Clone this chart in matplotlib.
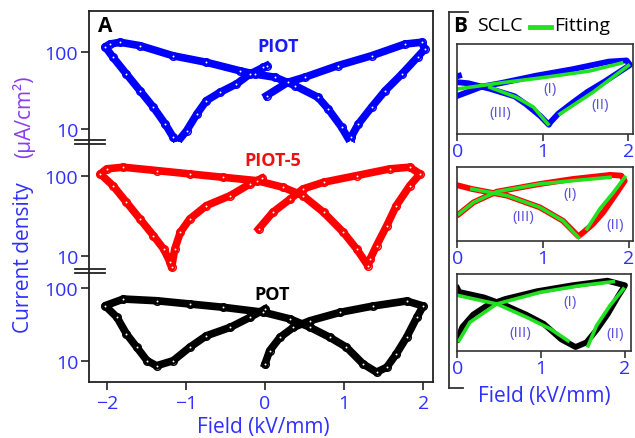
import matplotlib.pyplot as plt
from matplotlib.lines import Line2D
from matplotlib.ticker import NullLocator

plt.rcParams['font.family'] = ['Open Sans', 'DejaVu Sans']

# ---- panel A loops: field (kV/mm) and current density (uA/cm2) ----
piot_e = [0.02, 0.29, 0.51, 0.92, 1.35, 1.77, 1.98, 2.02,
          1.93, 1.73, 1.52, 1.35, 1.18, 1.09, 1.07,
          0.97, 0.80, 0.67, 0.38, 0.13, -0.13, -0.32, -0.74, -1.16, -1.58, -1.83, -1.96, -2.02,
          -1.92, -1.75, -1.58, -1.41, -1.26, -1.16, -1.11,
          -0.99, -0.86, -0.74, -0.57, -0.36, -0.19, -0.02, 0.02]
piot_j = [27.2, 40.6, 47.6, 66.9, 90.3, 128, 135, 110,
          87, 52, 31.6, 19.4, 11.6, 7.9, 7.0,
          10.5, 18.2, 25.9, 36.7, 47.2, 52, 57.5, 74, 90, 122, 135, 128, 118,
          86, 52, 31.6, 19.2, 11.6, 7.8, 6.7,
          9.5, 15.7, 23.4, 30, 38.6, 52, 63.7, 66.8]

piot5_e = [-0.08, 0.10, 0.32, 0.48, 0.74, 1.16, 1.58, 1.83, 1.96,
           1.83, 1.66, 1.54, 1.41, 1.33, 1.30,
           1.16, 0.99, 0.74, 0.48, 0.23, -0.10, -0.53, -0.95, -1.37, -1.79, -2.00, -2.08,
           -1.92, -1.75, -1.58, -1.41, -1.28, -1.20, -1.18,
           -1.14, -1.07, -0.95, -0.74, -0.44, -0.19, -0.04]
piot5_j = [21.7, 35.2, 51.8, 69.2, 84, 102, 124, 130, 107,
           76, 42.7, 23.9, 13.4, 9.1, 7.5,
           12.1, 19.7, 35.2, 57, 72.6, 88, 97, 107, 118, 130, 124, 107,
           76, 47, 29, 17.9, 12.1, 8.3, 7.1,
           12.1, 19.7, 29, 42.7, 57, 80, 94]

pot_e = [0.0, 0.06, 0.19, 0.36, 0.57, 0.95, 1.37, 1.79, 2.0,
         1.92, 1.79, 1.66, 1.54, 1.41,
         1.24, 1.03, 0.82, 0.57, 0.32, -0.02, -0.53, -0.95, -1.37, -1.79, -2.02,
         -1.87, -1.75, -1.62, -1.49, -1.37,
         -1.16, -0.95, -0.74, -0.44, -0.19, 0.0]
pot_j = [9.2, 14, 21.3, 29.2, 36, 46.9, 57.3, 67, 57.3,
         40, 21.3, 12.6, 8.3, 7.1,
         9.2, 15.6, 21.3, 29.2, 38, 47, 55, 61, 67.6, 71.3, 57.8,
         40, 23.7, 15.6, 10.2, 8.7,
         10.2, 15.6, 22.4, 29.2, 40, 52]

# ---- panel B: PIOT-5 positive-field SCLC data (differs from panel A) ----
b_piot5_e = [0.02, 0.19, 0.46, 0.96, 1.35, 1.78, 1.91, 1.95,
             1.86, 1.70, 1.58, 1.47, 1.41,
             1.23, 0.96, 0.58, 0.17, 0.02]
b_piot5_j = [23, 38.7, 61.9, 87, 108.6, 130, 126, 100,
             60, 24.9, 14.8, 10.3, 8.6,
             17.1, 31, 51.9, 69.8, 80.7]

# ---- panel B fits (I), (II), (III) ----
piot_fit1_e = [0.0, 0.5, 0.97, 1.55, 1.92]
piot_fit1_j = [36.3, 47.9, 60.3, 83.2, 120]
piot_fit2_e = [1.20, 1.59, 2.0]
piot_fit2_j = [11.5, 31.6, 107]
piot_fit3_e = [0.38, 0.69, 0.89, 1.06]
piot_fit3_j = [39.3, 24.8, 15.8, 7.2]

piot5_fit1_e = [0.02, 0.19, 0.46, 0.96, 1.35, 1.78]
piot5_fit1_j = [23.1, 38.7, 61.9, 87.1, 100.8, 117]
piot5_fit2_e = [1.51, 1.66, 1.82, 1.95]
piot5_fit2_j = [11.9, 28.8, 60.3, 117]
piot5_fit3_e = [0.17, 0.58, 0.96, 1.23, 1.41]
piot5_fit3_j = [69.8, 51.9, 31.0, 17.1, 8.2]

pot_fit1_e = [0.02, 0.15, 0.47, 0.99, 1.46, 1.86]
pot_fit1_j = [8.8, 16.4, 30.5, 45.3, 56.6, 64.9]
pot_fit2_e = [1.56, 1.66, 1.82, 1.98]
pot_fit2_j = [7.4, 14.6, 28.8, 50.6]
pot_fit3_e = [0.02, 0.47, 0.83, 1.11, 1.32]
pot_fit3_j = [40.4, 30.5, 19.4, 13.1, 8.8]

W, H = 635, 439
TICK_BLUE = '#2f2fff'
FIT_GREEN = '#22e022'


def box(l, t, r, b):
    return [l / W, 1 - b / H, (r - l) / W, (b - t) / H]


def fxy(x, y):
    return x / W, 1 - y / H


fig = plt.figure(figsize=(6.35, 4.39), dpi=100)

# ---- panel A ----
ax0 = fig.add_axes(box(89.3, 12, 432.7, 382.7))
ax0.set_xlim(-2.22, 2.12)
ax0.set_ylim(0, 1)
ax0.set_yticks([])
ax0.set_xticks([-2, -1, 0, 1, 2])
ax0.tick_params(axis='x', length=6, width=1.2, color='#222222',
                labelcolor=TICK_BLUE, labelsize=14, pad=3)
for s in ax0.spines.values():
    s.set_color('#222222')
    s.set_linewidth(1.3)

# break marks on the left spine
for yb in [0.652, 0.641, 0.304, 0.293]:
    ax0.plot([-0.042, 0.046], [yb, yb], transform=ax0.transAxes,
             clip_on=False, color='#222222', lw=1.3)

rows = [
    (piot_e, piot_j, 'blue', 12, 143, (6.77, 345)),
    (piot5_e, piot5_j, 'red', 143, 272, (6.41, 270)),
    (pot_e, pot_j, 'black', 272, 382.7, (5.26, 172.6)),
]
for e, j, c, top, bot, yl in rows:
    ax = fig.add_axes(box(89.3, top, 432.7, bot))
    ax.patch.set_alpha(0)
    for s in ax.spines.values():
        s.set_visible(False)
    ax.set_yscale('log')
    ax.set_xlim(-2.22, 2.12)
    ax.set_ylim(*yl)
    ax.set_xticks([])
    ax.set_yticks([10, 100])
    ax.set_yticklabels(['10', '100'])
    ax.yaxis.set_minor_locator(NullLocator())
    ax.tick_params(axis='y', length=6, width=1.2, color='#222222',
                   labelcolor=TICK_BLUE, labelsize=14, pad=2)
    ax.plot(e, j, '-', color=c, lw=5.5, solid_joinstyle='round')
    ax.plot(e, j, 'o', color=c, ms=5.5, mfc='none', mew=1.0)
    ax.plot(e, j, 'o', color='white', ms=1.4, mew=0)

fig.text(*fxy(105, 26), 'A', fontsize=15, fontweight='bold', ha='center', va='center')
fig.text(*fxy(278.5, 47.5), 'PIOT', color='#1a1aff', fontsize=13, fontweight='bold',
         ha='center', va='center')
fig.text(*fxy(272.5, 160.5), 'PIOT-5', color='#ee1111', fontsize=13, fontweight='bold',
         ha='center', va='center')
fig.text(*fxy(272.5, 294.5), 'POT', color='black', fontsize=13, fontweight='bold',
         ha='center', va='center')

fig.text(*fxy(263, 428), 'Field (kV/mm)', color=TICK_BLUE, fontsize=15,
         ha='center', va='center')
fig.text(*fxy(24, 258), 'Current density', color=TICK_BLUE, fontsize=15,
         rotation=90, ha='center', va='center')
fig.text(*fxy(24, 117), '(μA/cm²)', color='#8a3cf0', fontsize=15,
         rotation=90, ha='center', va='center')

# ---- panel B ----
fig.add_artist(Line2D([449 / W, 449 / W], [1 - 12.7 / H, 1 - 389 / H],
                      transform=fig.transFigure, color='#333333', lw=1.3))
fig.add_artist(Line2D([449 / W, 468 / W], [1 - 12.7 / H, 1 - 12.7 / H],
                      transform=fig.transFigure, color='#333333', lw=1.3))
fig.add_artist(Line2D([449 / W, 463 / W], [1 - 389 / H, 1 - 389 / H],
                      transform=fig.transFigure, color='#333333', lw=1.3))

fig.text(*fxy(460, 26), 'B', fontsize=15, fontweight='bold', ha='center', va='center')
fig.text(*fxy(477, 26), 'SCLC', fontsize=14, ha='left', va='center')
fig.add_artist(Line2D([530 / W, 551 / W], [1 - 28 / H, 1 - 28 / H],
                      transform=fig.transFigure, color=FIT_GREEN, lw=3.5))
fig.text(*fxy(554, 26), 'Fitting', fontsize=14, ha='left', va='center')

brows = [
    (piot_e, piot_j, 'blue', (457.3, 45, 632.7, 135), 2.051, (4.57, 288),
     [(piot_fit1_e, piot_fit1_j), (piot_fit2_e, piot_fit2_j), (piot_fit3_e, piot_fit3_j)],
     [(550, 90), (600, 105), (500, 113)]),
    (b_piot5_e, b_piot5_j, 'red', (457.3, 168.3, 632.7, 241.7), 2.043, (7.08, 182),
     [(piot5_fit1_e, piot5_fit1_j), (piot5_fit2_e, piot5_fit2_j), (piot5_fit3_e, piot5_fit3_j)],
     [(570, 195), (615, 225), (523, 218)]),
    (pot_e, pot_j, 'black', (457.3, 275, 630.7, 351.7), 2.068, (6.27, 84.1),
     [(pot_fit1_e, pot_fit1_j), (pot_fit2_e, pot_fit2_j), (pot_fit3_e, pot_fit3_j)],
     [(570, 303), (615, 335), (520, 333)]),
]
for e, j, c, bx, xr, yl, fits, labpos in brows:
    ax = fig.add_axes(box(*bx))
    ax.set_yscale('log')
    ax.set_xlim(0, xr)
    ax.set_ylim(*yl)
    ax.set_yticks([])
    ax.yaxis.set_minor_locator(NullLocator())
    ax.set_xticks([0, 1, 2])
    ax.tick_params(axis='x', length=5, width=1.2, color='#333333',
                   labelcolor=TICK_BLUE, labelsize=14, pad=1)
    for s in ax.spines.values():
        s.set_color('#333333')
        s.set_linewidth(1.2)
    ax.plot(e, j, '-', color=c, lw=4.2, solid_joinstyle='round')
    for fe, fj in fits:
        ax.plot(fe, fj, '-', color=FIT_GREEN, lw=2.6)
    for (lx, ly), t in zip(labpos, ['(I)', '(II)', '(III)']):
        fig.text(*fxy(lx, ly), t, color='#5a50e0', fontsize=11, ha='center', va='center')

fig.text(*fxy(544.5, 397), 'Field (kV/mm)', color=TICK_BLUE, fontsize=15,
         ha='center', va='center')

fig.savefig('out.png', dpi=100)
